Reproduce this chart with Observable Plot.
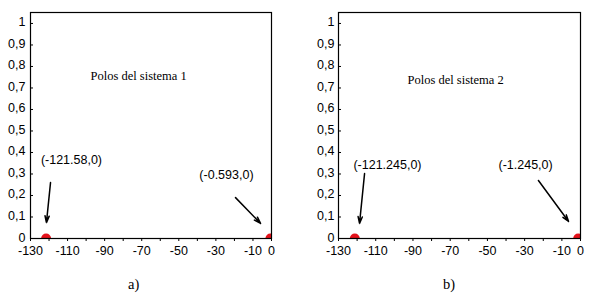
<!DOCTYPE html>
<html>
<head>
<meta charset="utf-8">
<script src="https://cdn.jsdelivr.net/npm/d3@7"></script>
<script src="https://cdn.jsdelivr.net/npm/@observablehq/plot@0.6"></script>
<style>
  body { margin: 0; background: #fff; }
  #wrap { position: relative; width: 591px; height: 298px; overflow: hidden; }
  #row { display: flex; flex-direction: row; }
  .cap { position: absolute; top: 276px; font-family: "Liberation Serif", serif; font-size: 14.5px; color: #000; }
</style>
</head>
<body>
<div id="wrap">
  <div id="row"></div>
  <div class="cap" id="capA" style="left:128px">a)</div>
  <div class="cap" id="capB" style="left:443px">b)</div>
</div>
<script>
// ---- data ----
const xTicks = [-130, -120, -110, -100, -90, -80, -70, -60, -50, -40, -30, -20, -10, 0];
const xLabels = [-130, -110, -90, -70, -50, -30, -10, 0];
const yTicks = [0, 0.1, 0.2, 0.3, 0.4, 0.5, 0.6, 0.7, 0.8, 0.9, 1];

const titles = ["Polos del sistema 1", "Polos del sistema 2"];
const titleX = [-71.7, -67.1];
const titleY = [0.758, 0.735];

const polesRe1 = [-121.58, -0.593];
const polesRe2 = [-121.245, -1.245];
const polesIm = [0, 0];

const labels1 = ["(-121.58,0)", "(-0.593,0)"];
const labels1X = [-107.9, -24.3];
const labels1Y = [0.363, 0.293];
const labels2 = ["(-121.245,0)", "(-1.245,0)"];
const labels2X = [-103.7, -29.5];
const labels2Y = [0.34, 0.34];

// arrow start/end (data units)
const arrows1X1 = [-119.2, -19.4];
const arrows1Y1 = [0.26, 0.19];
const arrows1X2 = [-121.4, -5.9];
const arrows1Y2 = [0.074, 0.07];
const arrows2X1 = [-116.0, -22.6];
const arrows2Y1 = [0.302, 0.27];
const arrows2X2 = [-118.7, -6.4];
const arrows2Y2 = [0.07, 0.079];

const sans = "'Liberation Sans', Arial, sans-serif";
const serif = "'Liberation Serif', 'Times New Roman', serif";

function fmtY(d) {
  if (d === 0) return "0";
  if (d === 1) return "1";
  return d.toFixed(1).replace(".", ",");
}

function panel(cfg) {
  const poles = cfg.re.map((r, i) => ({x: r, y: polesIm[i]}));
  const lbls = cfg.labels.map((t, i) => ({t, x: cfg.lx[i], y: cfg.ly[i]}));
  const arr = cfg.ax1.map((v, i) => ({x1: v, y1: cfg.ay1[i], x2: cfg.ax2[i], y2: cfg.ay2[i]}));
  const frameW = cfg.width - cfg.marginLeft - cfg.marginRight;
  return Plot.plot({
    width: cfg.width,
    height: 262,
    marginLeft: cfg.marginLeft,
    marginRight: cfg.marginRight,
    marginTop: 12,
    marginBottom: 24,
    style: {fontFamily: sans, fontSize: "12.5px", color: "#000", background: "#fff", overflow: "visible"},
    x: {domain: [-130, 0]},
    y: {domain: [0, 1.051]},
    marks: [
      Plot.axisX({ticks: xTicks, tickSize: 3, tickPadding: 5, fontSize: 12.5,
        tickFormat: d => xLabels.includes(d) ? String(d) : "", label: null, stroke: "#000"}),
      Plot.axisY({ticks: yTicks, tickSize: 0, tickPadding: cfg.yPad, fontSize: 12.5,
        tickFormat: fmtY, label: null, dy: -1}),
      Plot.tickY(yTicks, {y: d => d, insetRight: frameW - 3, stroke: "#000", strokeWidth: 1}),
      Plot.text([cfg.title], {x: cfg.tx, y: cfg.ty, text: d => d, fontFamily: serif, fontSize: 12.5, fill: "#000"}),
      Plot.text(lbls, {x: "x", y: "y", text: "t", fontFamily: sans, fontSize: 12.5, fill: "#000"}),
      Plot.arrow(arr, {x1: "x1", y1: "y1", x2: "x2", y2: "y2", stroke: "#000", strokeWidth: 1.5,
        headLength: 7, headAngle: 35}),
      Plot.dot(poles, {x: "x", y: "y", r: 5, fill: "#e3121b", stroke: "none", clip: true}),
      Plot.frame({stroke: "#000", strokeWidth: 1.2})
    ]
  });
}

const row = document.getElementById("row");
row.appendChild(panel({width: 295, marginLeft: 30, marginRight: 24, yPad: 5,
  re: polesRe1, labels: labels1, lx: labels1X, ly: labels1Y,
  ax1: arrows1X1, ay1: arrows1Y1, ax2: arrows1X2, ay2: arrows1Y2,
  title: titles[0], tx: titleX[0], ty: titleY[0]}));
row.appendChild(panel({width: 296, marginLeft: 43, marginRight: 11, yPad: 4,
  re: polesRe2, labels: labels2, lx: labels2X, ly: labels2Y,
  ax1: arrows2X1, ay1: arrows2Y1, ax2: arrows2X2, ay2: arrows2Y2,
  title: titles[1], tx: titleX[1], ty: titleY[1]}));
</script>
</body>
</html>
